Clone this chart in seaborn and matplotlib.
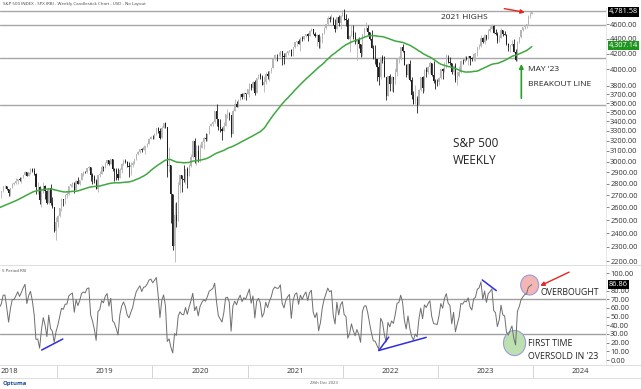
import pandas as pd
import numpy as np
import matplotlib
matplotlib.use("Agg")
import matplotlib.pyplot as plt
import matplotlib.dates as mdates
from matplotlib.patches import Ellipse
from matplotlib.lines import Line2D
from matplotlib.ticker import FixedLocator, FuncFormatter, NullLocator, NullFormatter
import seaborn as sns

# fechamentos semanais de aquecimento (jun/2017 - mai/2018), usados so para a media e o RSI
close_aquecimento = [
    2439, 2432, 2433, 2438, 2423, 2425, 2459, 2472, 2472, 2476, 2441, 2426, 2443,
    2477, 2461, 2500, 2502, 2519, 2549, 2553, 2575, 2581, 2588, 2582, 2579, 2603,
    2642, 2652, 2676, 2683, 2674,
    2743, 2786, 2810, 2873, 2762, 2620, 2732, 2747, 2691, 2786, 2752, 2588, 2641,
    2604, 2656, 2670, 2670, 2663, 2728, 2713, 2721,
]

# S&P 500 semanal, jun/2018 - dez/2023
close = [
    # 2018
    2735, 2779, 2780, 2755, 2718, 2760, 2801, 2802, 2819, 2840, 2833, 2850, 2875, 2902,
    2872, 2905, 2930, 2914, 2886, 2767, 2768, 2659, 2723, 2781, 2736, 2633, 2760, 2633,
    2600, 2417, 2486,
    # 2019
    2532, 2596, 2671, 2665, 2707, 2708, 2776, 2793, 2804, 2743, 2822, 2801, 2834,
    2893, 2907, 2905, 2940, 2946, 2881, 2860, 2826, 2752, 2873, 2887, 2950, 2942,
    2990, 3014, 2977, 3026, 2932, 2919, 2889, 2847, 2926, 2979, 3007, 2992, 2962,
    2952, 2970, 2986, 3023, 3067, 3093, 3120, 3110, 3141, 3146, 3169, 3221, 3240,
    # 2020
    3235, 3265, 3330, 3295, 3226, 3328, 3380, 3338, 2954, 2972, 2711, 2305, 2541,
    2489, 2790, 2875, 2837, 2831, 2930, 2864, 2955, 3044, 3194, 3041, 3098, 3009,
    3130, 3185, 3225, 3216, 3271, 3351, 3373, 3397, 3508, 3427, 3341, 3319, 3298,
    3348, 3477, 3484, 3465, 3270, 3510, 3585, 3558, 3638, 3699, 3663, 3709, 3703, 3756,
    # 2021
    3825, 3768, 3841, 3714, 3887, 3934, 3907, 3811, 3842, 3943, 3913, 3975,
    4020, 4129, 4185, 4180, 4181, 4233, 4174, 4156, 4204, 4230, 4247, 4166, 4281,
    4352, 4370, 4327, 4412, 4395, 4437, 4468, 4442, 4509, 4535, 4459, 4433, 4455,
    4357, 4391, 4471, 4545, 4605, 4697, 4683, 4698, 4595, 4538, 4712, 4621, 4726, 4766,
    # 2022
    4677, 4663, 4398, 4432, 4501, 4419, 4349, 4385, 4329, 4204, 4463, 4543,
    4546, 4488, 4393, 4272, 4132, 4123, 4024, 3901, 4158, 4109, 3901, 3675, 3912,
    3825, 3899, 3863, 3962, 4130, 4145, 4280, 4228, 4058, 3924, 4067, 3873, 3693, 3586,
    3640, 3583, 3753, 3901, 3771, 3993, 3965, 4026, 4072, 3934, 3852, 3845, 3840,
    # 2023
    3895, 3999, 3973, 4071, 4136, 4090, 4079, 3970, 4046, 3862, 3917, 3971, 4109,
    4105, 4138, 4134, 4169, 4136, 4124, 4192, 4205, 4282, 4299, 4410, 4348, 4450,
    4399, 4505, 4536, 4582, 4478, 4464, 4370, 4406, 4516, 4457, 4450, 4320, 4288,
    4309, 4327, 4224, 4117, 4358, 4415, 4514, 4559, 4595, 4604, 4719, 4755, 4781.58,
]

high = [
    2736, 2779, 2791, 2774, 2753, 2763, 2804, 2816, 2848, 2841, 2863, 2855, 2876, 2917,
    2900, 2908, 2941, 2940, 2940, 2894, 2817, 2777, 2763, 2815, 2787, 2746, 2760, 2800,
    2685, 2601, 2520,
    2541, 2598, 2675, 2672, 2709, 2738, 2776, 2796, 2813, 2812, 2830, 2860, 2836,
    2893, 2910, 2916, 2940, 2954, 2932, 2892, 2876, 2840, 2876, 2910, 2964, 2958,
    2996, 3018, 3018, 3028, 3028, 2944, 2943, 2939, 2940, 2985, 3021, 3022, 3007,
    2993, 2993, 3008, 3027, 3067, 3098, 3121, 3127, 3154, 3151, 3183, 3226, 3248,
    3259, 3282, 3330, 3337, 3333, 3347, 3385, 3393, 3259, 3137, 2882, 2562, 2637,
    2641, 2818, 2880, 2868, 2965, 2934, 2945, 2980, 3068, 3211, 3233, 3155, 3154,
    3165, 3198, 3234, 3280, 3272, 3352, 3387, 3399, 3509, 3588, 3425, 3429, 3342,
    3397, 3482, 3534, 3502, 3464, 3529, 3646, 3628, 3644, 3699, 3712, 3726, 3712, 3760,
    3827, 3819, 3861, 3871, 3889, 3937, 3951, 3929, 3914, 3960, 3983, 3978,
    4021, 4129, 4192, 4194, 4219, 4238, 4236, 4210, 4220, 4234, 4249, 4262, 4287,
    4356, 4372, 4393, 4415, 4429, 4441, 4469, 4481, 4513, 4545, 4536, 4486, 4466,
    4465, 4430, 4475, 4559, 4608, 4718, 4714, 4744, 4704, 4672, 4713, 4731, 4740, 4808,
    4819, 4749, 4690, 4453, 4595, 4591, 4490, 4386, 4417, 4327, 4466, 4546,
    4637, 4593, 4471, 4513, 4308, 4307, 4082, 4090, 4158, 4178, 4168, 3838, 3913,
    3946, 3918, 3902, 4012, 4140, 4167, 4281, 4325, 4203, 4062, 4077, 4119, 3907, 3733,
    3806, 3678, 3762, 3906, 3912, 4001, 4028, 4034, 4101, 4076, 4101, 3877, 3878,
    3906, 4003, 4015, 4094, 4195, 4176, 4160, 4079, 4049, 4079, 3975, 4039, 4110,
    4133, 4164, 4169, 4170, 4168, 4154, 4212, 4213, 4290, 4323, 4448, 4420, 4458,
    4456, 4528, 4578, 4607, 4585, 4527, 4490, 4450, 4541, 4514, 4511, 4466, 4338,
    4311, 4385, 4394, 4259, 4366, 4421, 4521, 4560, 4595, 4609, 4738, 4778, 4793,
]

low = [
    2676, 2731, 2765, 2742, 2691, 2698, 2770, 2790, 2800, 2795, 2823, 2803, 2853, 2880,
    2864, 2864, 2886, 2900, 2874, 2710, 2710, 2628, 2603, 2723, 2671, 2631, 2631, 2621,
    2598, 2409, 2347,
    2444, 2524, 2570, 2612, 2631, 2681, 2703, 2771, 2775, 2722, 2743, 2800, 2785,
    2848, 2872, 2894, 2897, 2920, 2825, 2801, 2805, 2750, 2728, 2862, 2882, 2912,
    2952, 2966, 2970, 2976, 2914, 2822, 2834, 2834, 2853, 2891, 2964, 2986, 2946,
    2856, 2874, 2952, 2981, 3018, 3065, 3079, 3091, 3109, 3070, 3135, 3172, 3222,
    3214, 3214, 3263, 3283, 3214, 3234, 3338, 3328, 2855, 2902, 2478, 2280, 2192,
    2448, 2630, 2723, 2727, 2815, 2797, 2766, 2866, 2947, 3036, 2984, 2966, 2999,
    2999, 3128, 3115, 3200, 3200, 3284, 3347, 3356, 3387, 3349, 3310, 3292, 3209,
    3323, 3354, 3440, 3415, 3234, 3279, 3511, 3553, 3560, 3633, 3645, 3647, 3636, 3705,
    3663, 3750, 3753, 3694, 3730, 3884, 3885, 3805, 3723, 3818, 3885, 3853,
    3949, 4034, 4119, 4098, 4169, 4157, 4057, 4061, 4155, 4183, 4220, 4165, 4164,
    4267, 4301, 4327, 4233, 4367, 4384, 4420, 4367, 4432, 4513, 4457, 4428, 4305,
    4278, 4279, 4341, 4464, 4537, 4595, 4630, 4672, 4586, 4495, 4532, 4572, 4531, 4733,
    4662, 4582, 4395, 4223, 4430, 4401, 4328, 4115, 4279, 4158, 4162, 4424,
    4518, 4450, 4381, 4267, 4129, 4062, 3859, 3811, 3876, 4074, 3900, 3637, 3705,
    3741, 3742, 3722, 3819, 3910, 4080, 4112, 4218, 4057, 3907, 3886, 3856, 3648, 3584,
    3584, 3491, 3590, 3735, 3719, 3735, 3906, 3937, 3947, 3918, 3828, 3764, 3800,
    3802, 3877, 3885, 3962, 4020, 4079, 4047, 3943, 3928, 3847, 3808, 3902, 3949,
    4069, 4085, 4113, 4049, 4049, 4098, 4098, 4103, 4166, 4260, 4291, 4340, 4328,
    4385, 4390, 4496, 4528, 4474, 4446, 4335, 4356, 4403, 4431, 4443, 4317, 4238,
    4216, 4306, 4223, 4104, 4103, 4339, 4403, 4510, 4537, 4546, 4591, 4688, 4751,
]

# niveis horizontais marcados no grafico
niveis_preco = [4796, 4590, 4140, 3580]
niveis_rsi = [70, 30]
ticks_preco = [2200, 2300, 2400, 2500, 2600, 2700, 2800, 2900, 3000, 3100, 3200, 3300,
               3400, 3500, 3600, 3700, 3800, 4000, 4200, 4400, 4600]
ticks_rsi = [0, 10, 20, 30, 40, 50, 60, 70, 80, 100]
anos = [2018, 2019, 2020, 2021, 2022, 2023, 2024]

# montando o DataFrame
todos = close_aquecimento + close
df = pd.DataFrame({"Data": pd.date_range("2017-06-02", periods=len(todos), freq="W-FRI"),
                   "Close": todos})
df.loc[df.index[-1], "Data"] = pd.Timestamp("2023-12-28")
df["Open"] = df["Close"].shift(1)
df["MA"] = df["Close"].rolling(52).mean()

# RSI de 5 periodos (Wilder)
delta = df["Close"].diff()
ganho = delta.clip(lower=0).ewm(alpha=1 / 5, adjust=False).mean()
perda = (-delta.clip(upper=0)).ewm(alpha=1 / 5, adjust=False).mean()
df["RSI"] = 100 - 100 / (1 + ganho / perda)

velas = df.iloc[len(close_aquecimento):].copy()
velas["High"] = np.maximum.reduce([np.array(high, float), velas["Open"], velas["Close"]])
velas["Low"] = np.minimum.reduce([np.array(low, float), velas["Open"], velas["Close"]])
sobe = velas["Close"] >= velas["Open"]
cores = np.where(sobe, "#b4b4b4", "#1e1e1e")

sns.set_style("white")
plt.rcParams["font.family"] = ["Open Sans", "DejaVu Sans"]

W, H = 641, 389
fig = plt.figure(figsize=(W / 100, H / 100), dpi=100)
ax1 = fig.add_axes([0, 1 - 264 / H, 606 / W, (264 - 8) / H])
ax2 = fig.add_axes([0, 1 - 364 / H, 606 / W, (364 - 266) / H])
axd = fig.add_axes([0, 1 - 378 / H, 606 / W, 13 / H])

x0, x1 = pd.Timestamp("2018-05-27"), pd.Timestamp("2024-10-08")
d = mdates.date2num

# painel de preco: velas + media
ax1.vlines(velas["Data"], velas["Low"], velas["High"], colors=cores, lw=0.6, zorder=2)
ax1.bar(velas["Data"], (velas["Close"] - velas["Open"]).abs().clip(lower=2),
        bottom=velas[["Open", "Close"]].min(axis=1), width=4.5, color=cores,
        linewidth=0, zorder=3)
sns.lineplot(data=df, x="Data", y="MA", ax=ax1, color="#3fa83f", lw=1.1, zorder=4)
for n in niveis_preco:
    ax1.axhline(n, color="#a8a8a8", lw=1, zorder=1)
ax1.set_yscale("log")
ax1.set_ylim(2180, 4840)
ax1.set_xlim(x0, x1)
ax1.yaxis.set_major_locator(FixedLocator(ticks_preco))
ax1.yaxis.set_major_formatter(FuncFormatter(lambda v, p: f"{v:.2f}"))
ax1.yaxis.set_minor_locator(NullLocator())
ax1.yaxis.set_minor_formatter(NullFormatter())

# painel do RSI
sns.lineplot(data=df, x="Data", y="RSI", ax=ax2, color="#6e6e6e", lw=0.7, zorder=3)
for n in niveis_rsi:
    ax2.axhline(n, color="#a0a0a0", lw=1, zorder=1)
ax2.set_ylim(-4.6, 108.4)
ax2.set_xlim(x0, x1)
ax2.yaxis.set_major_locator(FixedLocator(ticks_rsi))
ax2.yaxis.set_major_formatter(FuncFormatter(lambda v, p: f"{v:.2f}"))

for ax in (ax1, ax2):
    ax.yaxis.tick_right()
    ax.tick_params(axis="y", labelsize=5.3, length=2, width=0.5, pad=1,
                   colors="#555555", labelcolor="#333333")
    ax.set_xticks([])
    ax.set_xlabel("")
    ax.set_ylabel("")
    for s in ax.spines.values():
        s.set_visible(False)
    ax.spines["right"].set_visible(True)
    ax.spines["right"].set_color("#dddddd")
    ax.spines["right"].set_linewidth(0.5)

# eixo de datas (anos)
axd.set_xlim(x0, x1)
axd.set_ylim(0, 1)
axd.axis("off")
for a in anos[1:]:
    axd.vlines(pd.Timestamp(f"{a}-01-01"), 0, 1, color="#d4d4d4", lw=0.7)
for a in anos:
    axd.text(pd.Timestamp(f"{a}-07-02"), 0.5, str(a), ha="center", va="center",
             fontsize=5.5, color="#333333")

for yy in (265, 364.5, 378):
    fig.add_artist(Line2D([0, 1], [1 - yy / H] * 2, color="#d8d8d8", lw=0.6))

# etiquetas do valor atual
def etiqueta(ax, y, txt, cor):
    ax.text(1.005, y, txt, transform=ax.get_yaxis_transform(), ha="left", va="center",
            fontsize=5.3, color="white", zorder=10, clip_on=False,
            bbox=dict(boxstyle="square,pad=0.15", fc=cor, ec="none"))

etiqueta(ax1, close[-1], f"{close[-1]:,.2f}", "black")
etiqueta(ax1, 4307.14, "4,307.14", "#1e961e")
etiqueta(ax2, 86.86, "86.86", "black")

# anotacoes do painel de preco
ax1.text(d(pd.Timestamp("2023-04-15")), 4705, "2021 HIGHS", ha="center", va="center",
         fontsize=6, color="#222222")
ax1.annotate("", xy=(d(pd.Timestamp("2023-12-12")), 4767),
             xytext=(d(pd.Timestamp("2023-09-03")), 4838),
             arrowprops=dict(arrowstyle="-|>", color="#e52520", lw=1, mutation_scale=6),
             annotation_clip=False)
ax1.annotate("", xy=(d(pd.Timestamp("2023-11-18")), 4100),
             xytext=(d(pd.Timestamp("2023-11-18")), 3622),
             arrowprops=dict(arrowstyle="-|>", color="#2a9d2a", lw=1.2, mutation_scale=6))
ax1.text(d(pd.Timestamp("2023-12-14")), 3990, "MAY '23", ha="left", va="center",
         fontsize=6, color="#222222")
ax1.text(d(pd.Timestamp("2023-12-14")), 3809, "BREAKOUT LINE", ha="left", va="center",
         fontsize=6, color="#222222")
ax1.text(d(pd.Timestamp("2023-02-27")), 3177, "S&P 500", ha="left", va="center",
         fontsize=8.5, color="#222222")
ax1.text(d(pd.Timestamp("2023-02-27")), 3014, "WEEKLY", ha="left", va="center",
         fontsize=8.5, color="#222222")

# anotacoes do RSI
ax2.add_patch(Ellipse((d(pd.Timestamp("2023-12-20")), 86.5), 69, 23, fc="#f4b5b5",
                      ec="#9b9bdc", lw=0.8, zorder=2))
ax2.add_patch(Ellipse((d(pd.Timestamp("2023-10-23")), 19.6), 85, 29, fc="#bde0b0",
                      ec="#9b9bdc", lw=0.8, zorder=2))
ax2.annotate("", xy=(d(pd.Timestamp("2024-01-20")), 84.2),
             xytext=(d(pd.Timestamp("2024-05-29")), 102.7),
             arrowprops=dict(arrowstyle="-|>", color="#e52520", lw=1, mutation_scale=6))
ax2.text(d(pd.Timestamp("2024-01-31")), 78.4, "OVERBOUGHT", ha="left", va="center",
         fontsize=6.3, color="#222222")
ax2.text(d(pd.Timestamp("2023-12-12")), 19.6, "FIRST TIME", ha="left", va="center",
         fontsize=6.3, color="#222222")
ax2.text(d(pd.Timestamp("2023-12-12")), 4.6, "OVERSOLD IN '23", ha="left", va="center",
         fontsize=6.3, color="#222222")

linhas_azuis = [
    ("2018-11-03", 11.5, "2019-01-23", 24.2),
    ("2022-05-20", 11.0, "2022-06-27", 26.4),
    ("2022-05-20", 11.0, "2022-11-18", 26.1),
    ("2023-06-21", 92.3, "2023-08-14", 80.0),
]
for a, ya, b, yb in linhas_azuis:
    ax2.plot([pd.Timestamp(a), pd.Timestamp(b)], [ya, yb], color="#2f2fe0", lw=1.1, zorder=4)

ax2.text(0.004, 0.97, "5 Period RSI", transform=ax2.transAxes, fontsize=3.2,
         va="top", color="#444444")

# textos do topo e rodape
fig.text(0.004, 1 - 4.5 / H, "S&P 500 INDEX - SPX (RB) - Weekly Candlestick Chart - USD - No Layout",
         fontsize=3.2, va="center", color="#444444")
fig.text(0.004, 1 - 383.5 / H, "Optuma", fontsize=4.2, va="center", color="#1b4d9b",
         weight="bold")
fig.text(310 / W, 1 - 383.5 / H, "28th Dec 2023", fontsize=3, va="center", color="#555555")

fig.savefig("out.png", dpi=100)
print("Grafico salvo como 'out.png'.")
